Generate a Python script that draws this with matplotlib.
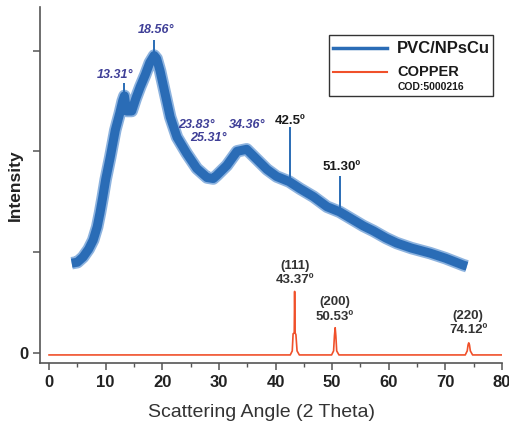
import matplotlib
matplotlib.use("Agg")
import matplotlib.pyplot as plt
from matplotlib.lines import Line2D
from matplotlib.patches import Rectangle
from matplotlib.ticker import MultipleLocator

plt.rcParams['font.family'] = ['Liberation Sans', 'DejaVu Sans']

# PVC/NPsCu pattern (centre of the noisy band)
pvc_angle = [4.0, 5.0, 6.0, 7.0, 7.8, 8.5, 9.0, 9.5, 10.0, 10.8, 11.7, 12.5,
             13.0, 13.31, 13.7, 14.6, 15.3, 16.1, 17.0, 17.8, 18.56, 19.0,
             19.6, 20.5, 21.4, 22.6, 24.3, 26.1, 27.9, 29.0, 29.6, 31.4, 33.2,
             34.9, 36.7, 38.5, 40.2, 42.4, 44.3, 46.7, 49.1, 51.3, 53.7, 55.5,
             57.3, 59.5, 61.4, 64.0, 67.3, 70.0, 73.2, 73.8]
pvc_int = [0.89, 0.90, 0.95, 1.03, 1.12, 1.25, 1.39, 1.55, 1.72, 1.94, 2.21,
           2.38, 2.50, 2.55, 2.40, 2.40, 2.52, 2.64, 2.76, 2.88, 2.95, 2.92,
           2.80, 2.57, 2.34, 2.14, 1.98, 1.83, 1.74, 1.73, 1.76, 1.86, 2.00,
           2.02, 1.92, 1.82, 1.75, 1.70, 1.63, 1.55, 1.45, 1.40, 1.32, 1.26,
           1.21, 1.14, 1.09, 1.04, 0.99, 0.94, 0.87, 0.86]

# sharp reflections sticking out of the band
spike_angle = [13.31, 18.56, 42.5, 51.30]
spike_top = [2.68, 3.10, 2.24, 1.76]
spike_base = [2.45, 2.90, 1.70, 1.40]

# COD 5000216 copper reference pattern
cu_angle = [0.0, 42.6, 42.95, 43.1, 43.3, 43.37, 43.45, 43.6, 43.8, 44.2,
            49.9, 50.25, 50.4, 50.53, 50.65, 50.8, 51.2,
            73.5, 73.85, 74.0, 74.12, 74.25, 74.4, 74.8, 80.0]
cu_int = [-0.02, -0.02, 0.02, 0.19, 0.20, 0.61, 0.20, 0.18, 0.02, -0.02,
          -0.02, 0.02, 0.17, 0.25, 0.17, 0.02, -0.02,
          -0.02, 0.02, 0.08, 0.10, 0.08, 0.02, -0.02, -0.02]

pvc_labels = ['13.31°', '18.56°', '23.83°', '25.31°', '34.36°']
pvc_label_x = [11.7, 18.9, 26.0, 28.1, 34.9]
pvc_label_y = [2.76, 3.20, 2.26, 2.13, 2.26]

cu_labels = ['(111)\n43.37º', '(200)\n50.53º', '(220)\n74.12º']
cu_label_x = [43.5, 50.5, 74.0]
cu_label_y = [0.66, 0.30, 0.17]

blue = '#2a6cb6'
red = '#f0502a'

fig = plt.figure(figsize=(5.10, 4.22), dpi=100)
ax = fig.add_axes([0.0784, 0.1398, 0.906, 0.8432])

# noisy band drawn as a thick line with a lighter fuzzy edge
ax.plot(pvc_angle, pvc_int, color='#8db3df', lw=9, solid_capstyle='butt')
ax.plot(pvc_angle, pvc_int, color=blue, lw=6.5, solid_capstyle='butt')
ax.vlines(spike_angle, spike_base, spike_top, color=blue, lw=1.4)

ax.plot(cu_angle, cu_int, color=red, lw=1.2)

for lab, x, y in zip(pvc_labels, pvc_label_x, pvc_label_y):
    ax.text(x, y, lab, ha='center', va='center', fontsize=9,
            fontstyle='italic', fontweight='bold', color='#3f3f97')

ax.text(42.6, 2.30, '42.5º', ha='center', va='center', fontsize=9.5,
        fontweight='bold', color='#1a1a1a')
ax.text(51.6, 1.84, '51.30º', ha='center', va='center', fontsize=9.5,
        fontweight='bold', color='#1a1a1a')

for lab, x, y in zip(cu_labels, cu_label_x, cu_label_y):
    ax.text(x, y, lab, ha='center', va='bottom', fontsize=9.5,
            fontweight='bold', color='#333333', linespacing=1.25)

# legend box
ax.add_patch(Rectangle((0.626, 0.750), 0.354, 0.171, transform=ax.transAxes,
                       facecolor='white', edgecolor='#333333', lw=1.0,
                       zorder=5))
ax.add_line(Line2D([0.634, 0.751], [0.885, 0.885], transform=ax.transAxes,
                   color=blue, lw=2.5, zorder=6))
ax.add_line(Line2D([0.634, 0.751], [0.817, 0.817], transform=ax.transAxes,
                   color=red, lw=1.5, zorder=6))
ax.text(0.773, 0.885, 'PVC/NPsCu', transform=ax.transAxes, fontsize=12,
        fontweight='bold', va='center', color='#1a1a1a', zorder=6)
ax.text(0.773, 0.818, 'COPPER', transform=ax.transAxes, fontsize=10.5,
        fontweight='bold', va='center', color='#1a1a1a', zorder=6)
ax.text(0.773, 0.775, 'COD:5000216', transform=ax.transAxes, fontsize=7.5,
        fontweight='bold', va='center', color='#1a1a1a', zorder=6)

ax.set_xlim(-1.6, 80)
ax.set_ylim(-0.1, 3.43)
ax.xaxis.set_major_locator(MultipleLocator(10))
ax.xaxis.set_minor_locator(MultipleLocator(5))
ax.set_yticks([0, 1, 2, 3])
ax.set_yticklabels(['0', '', '', ''])

for side in ['top', 'right']:
    ax.spines[side].set_visible(False)
for side in ['left', 'bottom']:
    ax.spines[side].set_color('#555555')
    ax.spines[side].set_linewidth(1.2)

ax.tick_params(axis='both', which='major', length=5, width=1.1,
               color='#555555', labelsize=12)
ax.tick_params(axis='x', which='minor', length=3, width=1.0, color='#555555')
for lab in ax.get_xticklabels() + ax.get_yticklabels():
    lab.set_fontweight('bold')
    lab.set_color('#222222')

ax.set_xlabel('Scattering Angle (2 Theta)', fontsize=14, color='#333333')
ax.xaxis.set_label_coords(0.479, -0.115)
ax.set_ylabel('Intensity', fontsize=12.5, fontweight='bold', color='#222222',
              va='center')
ax.yaxis.set_label_coords(-0.053, 0.5)

fig.savefig('out.png', dpi=100)
